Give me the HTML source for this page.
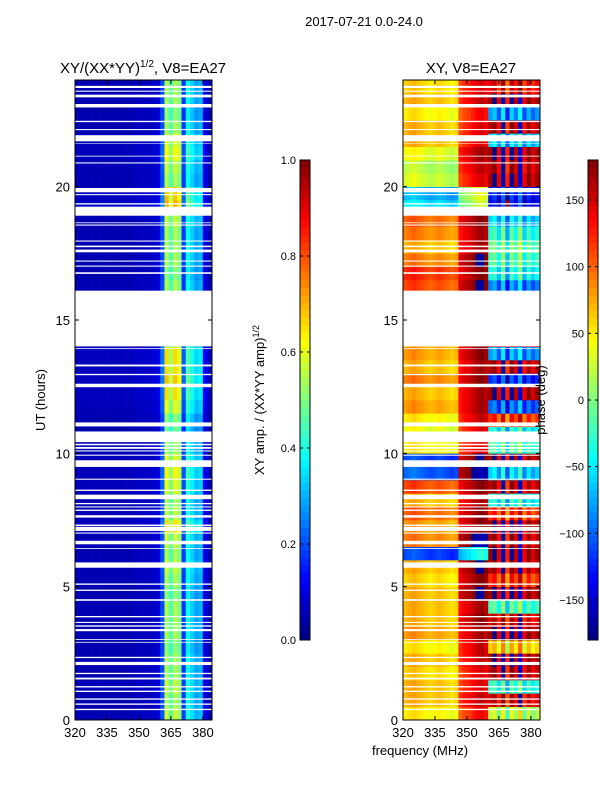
<!DOCTYPE html>
<html><head><meta charset="utf-8">
<style>
body{margin:0;background:#fff;width:600px;height:800px;overflow:hidden;font-family:"Liberation Sans",sans-serif;}
svg text{font-family:"Liberation Sans",sans-serif;fill:#000;}
</style></head>
<body>
<svg id="fig" width="600" height="800" viewBox="0 0 600 800" xmlns="http://www.w3.org/2000/svg">
<rect x="0" y="0" width="600" height="800" fill="#fff"/>
<text x="364" y="26" font-size="13" text-anchor="middle">2017-07-21 0.0-24.0</text>
<text x="143" y="73" font-size="15" text-anchor="middle">XY/(XX*YY)<tspan font-size="10" dy="-6">1/2</tspan><tspan dy="6">, V8=EA27</tspan></text>
<text x="471" y="73" font-size="15" text-anchor="middle">XY, V8=EA27</text>
<g id="ampCells"></g>
<g id="phCells"></g>
<g id="gaps"></g>
<g id="axes"></g>
<text transform="translate(45,400) rotate(-90)" font-size="13" text-anchor="middle">UT (hours)</text>
<text x="420" y="755" font-size="13" text-anchor="middle">frequency (MHz)</text>
<text transform="translate(264,400) rotate(-90)" font-size="13" text-anchor="middle">XY amp. / (XX*YY amp)<tspan font-size="9" dy="-5">1/2</tspan></text>
<text transform="translate(545,400) rotate(-90)" font-size="13" text-anchor="middle">phase (deg)</text>
</svg>
<script>
// ---- data ----
const freqEdges = [320,322,324,326,328,330,332,334,336,338,340,342,344,346,348,350,352,354,356,358,360,362,364,366,368,370,372,374,376,378,380,382,384];
const ampProfile = [0.05,0.05,0.05,0.05,0.05,0.05,0.05,0.05,0.05,0.05,0.05,0.05,0.05,0.05,0.06,0.06,0.06,0.06,0.07,0.08,0.2,0.55,0.45,0.55,0.5,0.18,0.38,0.33,0.28,0.3,0.1,0.05];
const ampGain = [1.05,1.0,1.05,1.0,1.0,0.95,1.0,1.0,1.0,0.95,1.0,1.05,1.0,1.05,1.2,1.05,1.0,1.1,1.15,1.1,1.0,0.9,0.95,1.1,1.2,1.25,1.2,1.2,1.0,1.0,1.0,1.0,1.0,0.95,1.0,1.0,1.0,1.05,1.3,1.25,1.0,1.05,1.15,1.1,1.0,0.95,1.0,1.0];
const phaseA = [40,60,60,50,60,40,70,60,60,60,50,60,-120,80,70,90,60,100,-110,-120,40,30,40,70,60,80,60,70,60,0,0,0,100,110,80,60,80,90,-60,-80,20,10,30,60,60,40,60,50];
const phaseB = [90,110,100,100,110,110,120,130,120,140,130,140,-80,150,130,130,120,130,150,140,100,100,110,120,120,130,120,130,120,0,0,0,140,130,140,120,120,130,-20,-10,100,110,120,100,100,90,110,100];
const phaseC = [20,150,-30,160,170,60,170,150,-20,170,120,160,170,160,170,120,-40,160,-60,170,-20,-40,120,-100,170,-120,160,-80,150,0,0,0,-90,-40,-20,-10,-30,-60,-140,-130,170,160,170,-60,160,-80,170,140];
const phaseColOffset = [10,15,20,15,10,5,0,5,10,5,0,-5,0,10,20,25,35,45,50,40,0,15,-25,30,-45,20,-10,40,-30,10,-20,0];
const gapStart = [23.70,23.56,23.35,22.97,22.42,22.12,21.70,21.60,21.13,20.87,19.79,19.68,19.33,18.91,18.63,18.54,17.94,17.73,17.54,17.19,17.00,16.73,14.01,13.91,13.26,12.93,12.48,11.01,10.42,10.30,10.17,10.07,9.91,9.49,9.01,8.59,8.28,8.09,7.97,7.84,7.59,7.27,7.09,6.99,6.59,6.42,5.71,5.07,4.84,4.47,3.85,3.64,3.50,3.33,3.00,2.90,2.32,2.06,1.72,1.52,1.22,1.05,0.76,0.57,0.37];
const gapEnd   = [23.78,23.60,23.45,23.10,22.47,22.16,21.93,21.62,21.16,20.91,19.95,19.72,19.38,19.25,18.66,18.58,17.98,17.79,17.64,17.23,17.04,16.79,16.10,13.94,13.33,12.98,12.61,11.16,10.82,10.36,10.24,10.11,9.95,9.74,9.05,8.64,8.45,8.14,8.01,7.89,7.68,7.33,7.24,7.03,6.72,6.45,5.91,5.12,4.89,4.53,3.90,3.68,3.55,3.41,3.03,2.93,2.37,2.18,1.77,1.59,1.27,1.10,0.81,0.62,0.42];
const xTicks = [320,335,350,365,380];
const yTicks = [0,5,10,15,20];
const ampCbTicks = [0.0,0.2,0.4,0.6,0.8,1.0];
const phCbTicks = [-150,-100,-50,0,50,100,150];

// ---- geometry ----
const NS='http://www.w3.org/2000/svg';
const PY0=80, PY1=720, HMAX=24;
const panels=[{x0:75,x1:212},{x0:403,x1:540}];
const FMIN=320, FMAX=384.3;
function yS(h){return PY1-(h/HMAX)*(PY1-PY0);}
function xS(p,f){return p.x0+(f-FMIN)/(FMAX-FMIN)*(p.x1-p.x0);}
function jet(t){t=Math.max(0,Math.min(1,t));
 const r=Math.min(1,Math.max(0,1.5-Math.abs(4*t-3))),g=Math.min(1,Math.max(0,1.5-Math.abs(4*t-2))),b=Math.min(1,Math.max(0,1.5-Math.abs(4*t-1)));
 return 'rgb('+Math.round(r*255)+','+Math.round(g*255)+','+Math.round(b*255)+')';}
function mk(tag,attrs,parent){const e=document.createElementNS(NS,tag);for(const k in attrs)e.setAttribute(k,attrs[k]);parent.appendChild(e);return e;}
function wrapPh(v){while(v>180)v-=360;while(v<-180)v+=360;return v;}

const ampG=document.getElementById('ampCells'), phG=document.getElementById('phCells');
const nRows=ampGain.length, dh=HMAX/nRows;
for(let r=0;r<nRows;r++){
 for(let c=0;c<ampProfile.length;c++){
  const h0=r*dh,h1=(r+1)*dh;
  const a=ampProfile[c]*ampGain[r];
  let e=mk('rect',{x:xS(panels[0],freqEdges[c]),y:yS(h1),width:xS(panels[0],freqEdges[c+1])-xS(panels[0],freqEdges[c])+0.3,height:yS(h0)-yS(h1)+0.3,fill:jet(a)},ampG);
  
  
  const f=freqEdges[c];
  let ph = f<346?phaseA[r]:(f<360?phaseB[r]:phaseC[r]);
  ph=wrapPh(ph+phaseColOffset[c]);
  e=mk('rect',{x:xS(panels[1],freqEdges[c]),y:yS(h1),width:xS(panels[1],freqEdges[c+1])-xS(panels[1],freqEdges[c])+0.3,height:yS(h0)-yS(h1)+0.3,fill:jet((ph+180)/360)},phG);
  
  
 }
}
const gG=document.getElementById('gaps');
for(const p of panels){
 for(let i=0;i<gapStart.length;i++){
  const e=mk('rect',{x:p.x0,y:yS(gapEnd[i]),width:p.x1-p.x0,height:yS(gapStart[i])-yS(gapEnd[i]),fill:'#fff'},gG);
  
  
 }
}
const ax=document.getElementById('axes');
for(const p of panels){
 let e=mk('rect',{x:p.x0,y:PY0,width:p.x1-p.x0,height:PY1-PY0,fill:'none',stroke:'#000','stroke-width':1},ax);
 
 
 for(const f of xTicks){const x=xS(p,f);
  mk('line',{x1:x,x2:x,y1:PY1,y2:PY1-4,stroke:'#000'},ax);
  mk('line',{x1:x,x2:x,y1:PY0,y2:PY0+4,stroke:'#000'},ax);
  e=mk('text',{x:x,y:PY1+17,'font-size':13,'text-anchor':'middle'},ax);e.textContent=f;
  
  
 }
 for(const h of yTicks){const y=yS(h);
  mk('line',{x1:p.x0,x2:p.x0+4,y1:y,y2:y,stroke:'#000'},ax);
  mk('line',{x1:p.x1,x2:p.x1-4,y1:y,y2:y,stroke:'#000'},ax);
  e=mk('text',{x:p.x0-5,y:y+5,'font-size':13,'text-anchor':'end'},ax);e.textContent=h;
  
  
 }
}
// colorbars
const CB0=160, CB1=640;
function colorbar(x,vmin,vmax,ticks,name){
 const n=64;
 for(let i=0;i<n;i++){const y=CB1-(i+1)*(CB1-CB0)/n;
  const e=mk('rect',{x:x,y:y,width:10,height:(CB1-CB0)/n+0.4,fill:jet((i+0.5)/n)},ax);
  
  }
 let e=mk('rect',{x:x,y:CB0,width:10,height:CB1-CB0,fill:'none',stroke:'#000'},ax);
 
 
 for(const t of ticks){const y=CB1-(t-vmin)/(vmax-vmin)*(CB1-CB0);
  mk('line',{x1:x,x2:x+3,y1:y,y2:y,stroke:'#000'},ax);
  mk('line',{x1:x+10,x2:x+7,y1:y,y2:y,stroke:'#000'},ax);
  e=mk('text',{x:x-4,y:y+4,'font-size':11,'text-anchor':'end'},ax);
  e.textContent=(vmax<=1?t.toFixed(1):(t<0?'\u2212'+(-t):t));
  
  }
}
colorbar(300,0,1,ampCbTicks,'amp-colorbar');
colorbar(588,-180,180,phCbTicks,'phase-colorbar');
</script>
</body></html>
